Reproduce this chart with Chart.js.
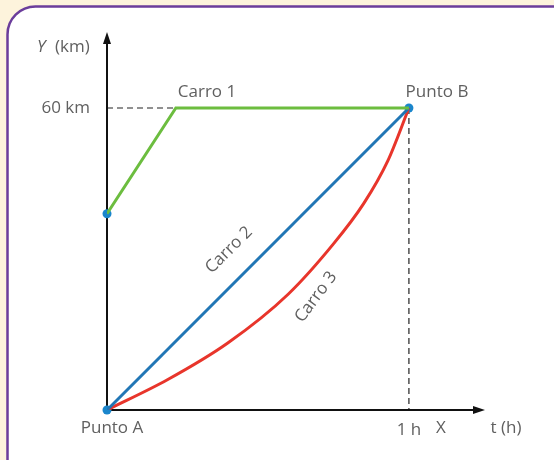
<!DOCTYPE html>
<html>
<head>
<meta charset="utf-8">
<script src="https://cdn.jsdelivr.net/npm/chart.js@4"></script>
<style>
  html, body { margin: 0; padding: 0; background: #fdf3dc; }
  #wrap { width: 554px; height: 460px; }
</style>
</head>
<body>
<div id="wrap"><canvas id="chart" width="554" height="460"></canvas></div>
<script>
// --- DATA ---
const carro1X = [0, 0.228, 1];
const carro1Y = [39, 60, 60];
const carro2X = [0, 1];
const carro2Y = [0, 60];
const carro3X = [0, 0.2, 0.4, 0.6, 0.75, 0.85, 0.93, 1];
const carro3Y = [0, 6, 13.3, 23, 33, 41, 49.5, 60];
const puntosX = [0, 0, 1];
const puntosY = [39, 0, 60];
const yTickLabels = { 60: '60 km' };
const xTickLabels = { 1: '1 h' };

const FONT = '"Open Sans", "Noto Sans", sans-serif';
const TEXT = '#606060';
const SIZE = 17;

function toPoints(xs, ys) {
    return xs.map((x, i) => ({ x: x, y: ys[i] }));
}

// --- PLUGINS ---
const frame = {
    id: 'frame',
    beforeDraw(chart) {
        const ctx = chart.ctx;
        ctx.save();
        ctx.fillStyle = '#fdf3dc';
        ctx.fillRect(0, 0, chart.width, chart.height);
        ctx.beginPath();
        ctx.roundRect(7.5, 6.5, 580, 490, 28);
        ctx.fillStyle = '#ffffff';
        ctx.fill();
        ctx.lineWidth = 2.5;
        ctx.strokeStyle = '#6b3d9b';
        ctx.stroke();
        ctx.restore();
    }
};

const decorations = {
    id: 'decorations',
    beforeDatasetsDraw(chart) {
        const ctx = chart.ctx;
        const x = chart.scales.x, y = chart.scales.y;
        const x0 = x.getPixelForValue(0), y0 = y.getPixelForValue(0);
        const x1 = x.getPixelForValue(1), y60 = y.getPixelForValue(60);
        ctx.save();
        // dashed guides
        ctx.strokeStyle = '#222';
        ctx.lineWidth = 1.2;
        ctx.setLineDash([6, 4]);
        ctx.beginPath();
        ctx.moveTo(x0, y60);
        ctx.lineTo(x1, y60);
        ctx.moveTo(x1, y60);
        ctx.lineTo(x1, y0);
        ctx.stroke();
        ctx.setLineDash([]);
        // axes
        ctx.strokeStyle = '#111';
        ctx.lineWidth = 2;
        ctx.beginPath();
        ctx.moveTo(x0, y0);
        ctx.lineTo(x.right - 6, y0);
        ctx.moveTo(x0, y0);
        ctx.lineTo(x0, y.top + 6);
        ctx.stroke();
        // arrow heads
        ctx.fillStyle = '#111';
        ctx.beginPath();
        ctx.moveTo(x.right, y0);
        ctx.lineTo(x.right - 12, y0 - 4);
        ctx.lineTo(x.right - 12, y0 + 4);
        ctx.closePath();
        ctx.fill();
        ctx.beginPath();
        ctx.moveTo(x0, y.top);
        ctx.lineTo(x0 - 4, y.top + 12);
        ctx.lineTo(x0 + 4, y.top + 12);
        ctx.closePath();
        ctx.fill();
        ctx.restore();
    },
    afterDraw(chart) {
        const ctx = chart.ctx;
        ctx.save();
        ctx.fillStyle = TEXT;
        ctx.textBaseline = 'middle';
        ctx.textAlign = 'center';
        ctx.font = SIZE + 'px ' + FONT;
        ctx.fillText('Carro 1', 207, 92);
        ctx.fillText('Punto B', 437, 92);
        ctx.fillText('Punto A', 112, 428);
        ctx.fillText('X', 441, 428);
        ctx.fillText('t (h)', 506, 428);
        // axis title
        ctx.textAlign = 'left';
        ctx.font = 'italic ' + SIZE + 'px ' + FONT;
        ctx.fillText('Y', 37, 47);
        ctx.font = SIZE + 'px ' + FONT;
        ctx.fillText('(km)', 55, 47);
        // rotated labels
        ctx.textAlign = 'center';
        ctx.translate(229, 250);
        ctx.rotate(-Math.PI / 4);
        ctx.fillText('Carro 2', 0, 0);
        ctx.setTransform(1, 0, 0, 1, 0, 0);
        ctx.translate(316, 297);
        ctx.rotate(-0.93);
        ctx.fillText('Carro 3', 0, 0);
        ctx.restore();
    }
};

// --- CHART ---
const lineStyle = { showLine: true, fill: false, pointRadius: 0, borderWidth: 3 };

new Chart(document.getElementById('chart'), {
    type: 'scatter',
    data: {
        datasets: [
            { ...lineStyle, label: 'Carro 1', data: toPoints(carro1X, carro1Y), borderColor: '#6cbd3f' },
            { ...lineStyle, label: 'Carro 2', data: toPoints(carro2X, carro2Y), borderColor: '#2176b5' },
            { ...lineStyle, label: 'Carro 3', data: toPoints(carro3X, carro3Y), borderColor: '#e8352b',
              cubicInterpolationMode: 'monotone' },
            { label: 'Puntos', data: toPoints(puntosX, puntosY), showLine: false, clip: false,
              pointRadius: 4.5, pointBackgroundColor: '#1a86cc', pointBorderWidth: 0 }
        ]
    },
    options: {
        responsive: false,
        animation: false,
        layout: { padding: { left: 0, top: 32, right: 69, bottom: 20 } },
        plugins: { legend: { display: false }, tooltip: { enabled: false } },
        scales: {
            x: {
                type: 'linear', min: 0, max: 1.252,
                grid: { display: false }, border: { display: false },
                afterFit: s => { s.height = 30; },
                afterBuildTicks: s => { s.ticks = Object.keys(xTickLabels).map(v => ({ value: +v })); },
                ticks: { callback: v => xTickLabels[v] || '', color: TEXT, padding: 2,
                         font: { family: FONT, size: SIZE }, maxRotation: 0 }
            },
            y: {
                type: 'linear', min: 0, max: 75.1,
                grid: { display: false }, border: { display: false },
                afterFit: s => { s.width = 107; },
                afterBuildTicks: s => { s.ticks = Object.keys(yTickLabels).map(v => ({ value: +v })); },
                ticks: { callback: v => yTickLabels[v] || '', color: TEXT, padding: 9,
                         font: { family: FONT, size: SIZE } }
            }
        }
    },
    plugins: [frame, decorations]
});
</script>
</body>
</html>
